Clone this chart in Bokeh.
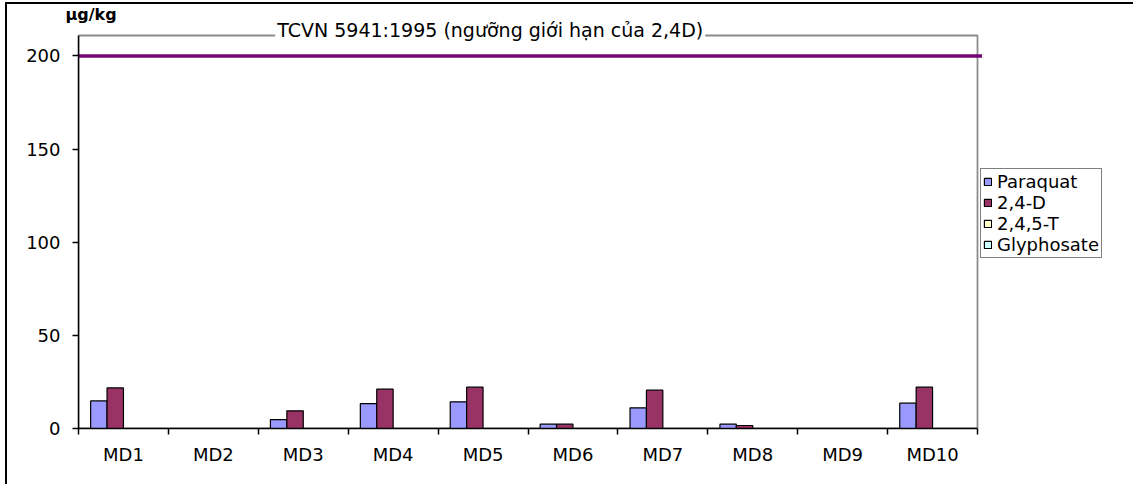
from bokeh.plotting import figure
from bokeh.models import (Range1d, FixedTicker, CustomJSTickFormatter, Label,
                          Legend, LegendItem, ColumnDataSource, Title)
from bokeh.embed import file_html
from bokeh.resources import INLINE

# ---- data -----------------------------------------------------------------
sites = ["MD1", "MD2", "MD3", "MD4", "MD5", "MD6", "MD7", "MD8", "MD9", "MD10"]
series_names = ["Paraquat", "2,4-D", "2,4,5-T", "Glyphosate"]
paraquat = [14.8, 0, 4.8, 13.4, 14.3, 2.3, 11.1, 2.3, 0, 13.6]
d24 = [21.8, 0, 9.5, 21.1, 22.2, 2.3, 20.6, 1.6, 0, 22.2]
t245 = [0, 0, 0, 0, 0, 0, 0, 0, 0, 0]
glyphosate = [0, 0, 0, 0, 0, 0, 0, 0, 0, 0]
limit_value = 200
limit_label = "TCVN 5941:1995 (ngưỡng giới hạn của 2,4D)"
y_ticks = [0, 50, 100, 150, 200]
unit_label = "µg/kg"

series_values = [paraquat, d24, t245, glyphosate]
series_colors = ["#9999FF", "#993366", "#FFFFCC", "#CCFFFF"]

FONT = "DejaVu Sans"
W, H = 1128, 482
LEFT, BOTTOM, TOP = 71, 58, 12          # frame offsets inside the canvas
AREA_RIGHT = 970                        # right edge of the plot area (canvas px)
AREA_TOP = 31                           # top edge of the plot area (canvas px)
Y_AXIS_MAX = 211

n = len(sites)
px_per_unit = (AREA_RIGHT - LEFT) / n
x_view_max = (W - LEFT) / px_per_unit
py_per_unit = (H - BOTTOM - AREA_TOP) / Y_AXIS_MAX
y_view_max = (H - BOTTOM - TOP) / py_per_unit

p = figure(width=W, height=H, output_backend="svg", toolbar_location=None,
           x_range=Range1d(0, x_view_max), y_range=Range1d(0, y_view_max),
           min_border_left=LEFT, min_border_right=0, min_border_top=TOP,
           min_border_bottom=BOTTOM, margin=(4, 0, 0, 7),
           styles={"box-shadow": "-2px -2px 0px 0px black"})
p.outline_line_color = None
p.background_fill_color = "white"
p.border_fill_color = "white"
p.grid.visible = False

# unit caption above the value axis (allowed to overhang the frame top)
p.add_layout(Title(text=unit_label, align="left", offset=-13, standoff=-15,
                   text_font=FONT, text_font_size="16px", text_font_style="bold",
                   text_color="black"), "above")

# ---- plot area border (grey) --------------------------------------------------
p.quad(left=0, right=n, bottom=0, top=Y_AXIS_MAX, fill_color=None,
       line_color="#8c8c8c", line_width=1.8)

# ---- bars: clustered, four series per site ----------------------------------
gap = 0.27
bar_w = (1 - gap) / len(series_names)
items = []
for j, (name, vals, col) in enumerate(zip(series_names, series_values, series_colors)):
    offset = -0.5 + gap / 2 + bar_w * (j + 0.5)
    src = ColumnDataSource(dict(x=[i + 0.5 + offset for i in range(n)], top=vals))
    r = p.vbar(x="x", top="top", bottom=0, width=bar_w, source=src,
               fill_color=col, line_color="black", line_width=1.2)
    items.append(LegendItem(label=name, renderers=[r]))

# ---- limit line (TCVN 5941:1995) ---------------------------------------------
p.line(x=[0, n + 0.05], y=[limit_value, limit_value],
       line_color="#760676", line_width=3.5)

# ---- axes -------------------------------------------------------------------
xa = p.xaxis[0]
xa.bounds = (0, n)
xa.ticker = FixedTicker(ticks=[i + 0.5 for i in range(n)],
                        minor_ticks=list(range(n + 1)))
xa.formatter = CustomJSTickFormatter(args=dict(cats=sites),
                                     code="return cats[Math.floor(tick)] || ''")
xa.major_tick_line_color = None
xa.major_tick_out = 6
xa.major_tick_in = 0
xa.minor_tick_out = 6
xa.minor_tick_in = 0
xa.minor_tick_line_color = "black"
xa.minor_tick_line_width = 1.5
xa.axis_line_color = "black"
xa.axis_line_width = 1.5
xa.major_label_text_font = FONT
xa.major_label_text_font_size = "18px"
xa.major_label_text_color = "black"
xa.major_label_standoff = 9

ya = p.yaxis[0]
ya.bounds = (0, Y_AXIS_MAX)
ya.ticker = FixedTicker(ticks=y_ticks, minor_ticks=[])
ya.major_tick_out = 6
ya.major_tick_in = 0
ya.major_tick_line_color = "black"
ya.major_tick_line_width = 1.5
ya.axis_line_color = "black"
ya.axis_line_width = 1.5
ya.major_label_text_font = FONT
ya.major_label_text_font_size = "18px"
ya.major_label_text_color = "black"
ya.major_label_standoff = 12

# caption of the limit line, breaking the top edge of the plot area
p.add_layout(Label(x=4.58, y=Y_AXIS_MAX, y_offset=6, text=limit_label,
                   text_align="center", text_baseline="alphabetic",
                   text_font=FONT, text_font_size="19px", text_color="black",
                   background_fill_color="white", padding=2))

# ---- legend -----------------------------------------------------------------
legend = Legend(items=items, location=(902, 170), orientation="vertical",
                border_line_color="black", border_line_width=1.2,
                background_fill_color="white", padding=2, margin=0,
                glyph_width=9, glyph_height=9, label_standoff=5, spacing=0,
                label_height=21, label_text_font=FONT,
                label_text_font_size="18px", label_text_color="black")
p.add_layout(legend, "center")

open("out.html", "w").write(file_html(p, INLINE))
